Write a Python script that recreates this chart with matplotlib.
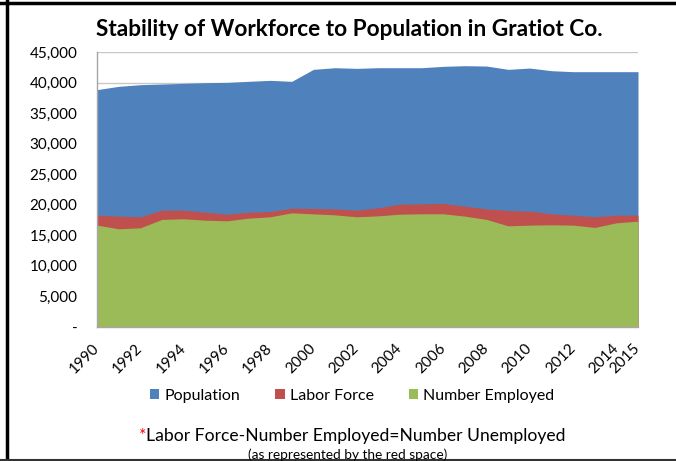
import matplotlib
matplotlib.use("Agg")
import matplotlib.pyplot as plt
from matplotlib.lines import Line2D
from matplotlib.patches import Patch

years = list(range(1990, 2016))
population = [38840, 39380, 39650, 39760, 39870, 39980, 40030, 40200, 40360, 40200,
              42160, 42430, 42320, 42430, 42430, 42430, 42650, 42760, 42700, 42160,
              42370, 41940, 41780, 41780, 41780, 41780]
labor_force = [18300, 18140, 18030, 19120, 19120, 18790, 18460, 18790, 18900, 19440,
               19390, 19330, 19120, 19500, 20100, 20150, 20210, 19770, 19330, 19060,
               18950, 18520, 18300, 18030, 18300, 18300]
employed = [16670, 16070, 16230, 17600, 17710, 17480, 17370, 17810, 18030, 18680,
            18510, 18350, 18030, 18190, 18460, 18520, 18520, 18140, 17600, 16550,
            16670, 16720, 16670, 16290, 17050, 17320]
tick_years = [1990, 1992, 1994, 1996, 1998, 2000, 2002, 2004, 2006, 2008, 2010, 2012, 2014, 2015]
y_ticks = [0, 5000, 10000, 15000, 20000, 25000, 30000, 35000, 40000, 45000]
series_names = ["Population", "Labor Force", "Number Employed"]
colors = ["#4F81BD", "#C0504D", "#9BBB59"]

plt.rcParams['font.family'] = ['Lato', 'DejaVu Sans']

fig = plt.figure(figsize=(6.76, 4.61), dpi=100)
ax = fig.add_axes([97/676, 1-327/461, (638-97)/676, (327-52)/461])

for vals, c in zip([population, labor_force, employed], colors):
    ax.fill_between(years, 0, vals, color=c, linewidth=0, zorder=2)

ax.set_xlim(1990, 2015)
ax.set_ylim(0, 45000)
ax.set_yticks(y_ticks)
ax.set_yticklabels(["-" if v == 0 else f"{v:,}" for v in y_ticks], fontsize=11)
ax.yaxis.grid(True, color="#C8C8C8", linewidth=1, zorder=0)
ax.set_axisbelow(True)
ax.tick_params(axis='y', length=0, pad=14, colors='#000000')
ax.set_xticks(tick_years)
ax.set_xticklabels([str(y) for y in tick_years], rotation=45, ha='right', va='center',
                   rotation_mode='anchor', fontsize=11)
ax.tick_params(axis='x', length=0, pad=14)
for s in ['top', 'right']:
    ax.spines[s].set_visible(False)
for s in ['left', 'bottom']:
    ax.spines[s].set_color('#A6A6A6')
    ax.spines[s].set_linewidth(1)
    ax.spines[s].set_zorder(5)

fig.text(349/676, 1-30/461, "Stability of Workforce to Population in Gratiot Co.",
         ha='center', va='center', fontsize=16.3, fontweight='bold')

handles = [Patch(facecolor=c, edgecolor='none') for c in colors]
fig.legend(handles, series_names, loc='center', bbox_to_anchor=(352/676, 1-396/461),
           ncol=3, frameon=False, fontsize=11.5, handlelength=0.6, handleheight=0.6,
           handletextpad=0.3, columnspacing=2.2)

t1 = fig.text(352/676, 1-436/461, "*Labor Force-Number Employed=Number Unemployed",
              ha='center', va='center', fontsize=12.6, color='none')
fig.canvas.draw()
r = fig.canvas.get_renderer()
bb = t1.get_window_extent(r)
star = fig.text(bb.x0/fig.bbox.width, 1-436/461, "*", ha='left', va='center', fontsize=12.6, color='#FF0000')
sb = star.get_window_extent(r)
fig.text(sb.x1/fig.bbox.width, 1-436/461, "Labor Force-Number Employed=Number Unemployed",
         ha='left', va='center', fontsize=12.6, color='black')
t1.remove()
fig.text(348/676, 1-455/461, "(as represented by the red space)", ha='center', va='center',
         fontsize=9.8, color='black')

# outer border lines
fig.add_artist(Line2D([6.5/676, 6.5/676], [0, 1], transform=fig.transFigure, color='black', linewidth=2.5))
fig.add_artist(Line2D([0, 1], [1-3/461, 1-3/461], transform=fig.transFigure, color='black', linewidth=2.5))
fig.add_artist(Line2D([0, 1], [1-459.5/461, 1-459.5/461], transform=fig.transFigure, color='#333333', linewidth=1.5))

fig.savefig("out.png", dpi=100)
